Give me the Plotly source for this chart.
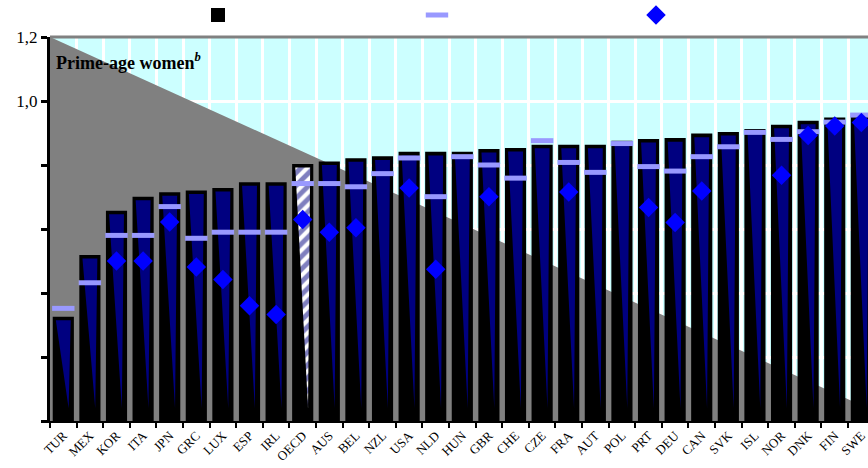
import plotly.graph_objects as go

countries = ["TUR", "MEX", "KOR", "ITA", "JPN", "GRC", "LUX", "ESP", "IRL", "OECD",
             "AUS", "BEL", "NZL", "USA", "NLD", "HUN", "GBR", "CHE", "CZE", "FRA",
             "AUT", "POL", "PRT", "DEU", "CAN", "SVK", "ISL", "NOR", "DNK", "FIN", "SWE"]
bar_values = [0.323, 0.516, 0.654, 0.698, 0.712, 0.717, 0.725, 0.743, 0.743, 0.800,
              0.808, 0.818, 0.824, 0.838, 0.838, 0.838, 0.847, 0.850, 0.860, 0.860,
              0.860, 0.873, 0.878, 0.881, 0.895, 0.900, 0.909, 0.923, 0.935, 0.945, 0.949]
dash_values = [0.352, 0.432, 0.580, 0.580, 0.670, 0.571, 0.590, 0.590, 0.590, 0.742,
               0.742, 0.732, 0.773, 0.822, 0.701, 0.826, 0.800, 0.759, 0.876, 0.808,
               0.777, 0.867, 0.795, 0.781, 0.826, 0.857, 0.902, 0.880, 0.904, 0.934, 0.956]
diamond_values = [None, None, 0.500, 0.500, 0.622, 0.481, 0.442, 0.360, 0.333, 0.630,
                  0.590, 0.604, None, 0.728, 0.474, None, 0.701, None, None, 0.716,
                  None, None, 0.667, 0.620, 0.719, None, None, 0.768, 0.892, 0.922, 0.933]
y_tick_values = [0.0, 0.2, 0.4, 0.6, 0.8, 1.0, 1.2]
y_tick_text = ["", "", "", "", "", "1,0", "1,2"]
panel_title = "<b>Prime-age women<sup><i>b</i></sup></b>"
highlight = "OECD"

SERIF = "Liberation Serif"
NAVY = "#000080"
idx = list(range(len(countries)))

fig = go.Figure()

fig.add_trace(go.Bar(
    x=idx, y=bar_values, width=0.72, name=" ",
    marker=dict(color="black", line=dict(color="black", width=2)),
    showlegend=True, hoverinfo="skip"))

# inner shading triangles of each bar
tx, ty, hx, hy = [], [], [], []
for i, v in zip(idx, bar_values):
    xs = [i - 0.28, i + 0.28, i + 0.2, i - 0.28]
    ys = [v - 0.008, v - 0.008, 0.04, v - 0.008]
    if countries[i] == highlight:
        hx += xs; hy += ys
    else:
        tx += xs + [None]; ty += ys + [None]

fig.add_trace(go.Scatter(x=tx, y=ty, mode="lines", fill="toself", fillcolor=NAVY,
                         line=dict(width=0), showlegend=False, hoverinfo="skip"))
fig.add_trace(go.Scatter(x=hx, y=hy, mode="lines", fill="toself", fillcolor="white",
                         fillpattern=dict(shape="/", fgcolor=NAVY, bgcolor="white",
                                          size=9, solidity=0.55),
                         line=dict(width=0), showlegend=False, hoverinfo="skip"))

fig.add_trace(go.Scatter(
    x=idx, y=dash_values, mode="markers", name=" ",
    marker=dict(symbol="line-ew", size=16, color="#9999FF",
                line=dict(color="#9999FF", width=5)),
    hoverinfo="skip"))
fig.add_trace(go.Scatter(
    x=idx, y=diamond_values, mode="markers", name=" ",
    marker=dict(symbol="diamond", size=15, color="#0000FF", line=dict(width=0)),
    hoverinfo="skip"))

# grey triangle behind bars
fig.add_shape(type="path", xref="x", yref="y",
              path="M -0.5 1.2 L -0.5 0 L 31.3 0 Z",
              fillcolor="#808080", line=dict(width=0), layer="between")
# top frame line
fig.add_shape(type="line", xref="paper", yref="paper", x0=0, x1=1, y0=1, y1=1,
              line=dict(color="#808080", width=3), layer="above")

fig.add_annotation(x=0.005, y=0.935, xref="paper", yref="paper", xanchor="left",
                   yanchor="middle", text=panel_title, showarrow=False,
                   font=dict(family=SERIF, size=18, color="black"))

fig.update_layout(
    width=868, height=468,
    margin=dict(l=50, r=0, t=37, b=47),
    paper_bgcolor="white", plot_bgcolor="#CCFFFF",
    font=dict(family=SERIF, color="black"),
    bargap=0.28,
    legend=dict(orientation="h", xref="container", yref="container",
                x=0.2281, y=0.968, xanchor="left", yanchor="middle",
                entrywidth=174, entrywidthmode="pixels",
                font=dict(size=12), bgcolor="rgba(0,0,0,0)", traceorder="normal"),
    xaxis=dict(range=[-0.5, 30.25], tickmode="array", tickvals=idx, ticktext=countries,
               tickangle=-45, ticks="", showgrid=False, zeroline=False, automargin=False,
               ticklabeloverflow="allow",
               tickfont=dict(family=SERIF, size=13, color="black"),
               showline=True, linecolor="black", linewidth=2,
               minor=dict(tick0=-0.5, dtick=1, ticks="outside", ticklen=5,
                          tickwidth=2, tickcolor="black",
                          showgrid=True, gridcolor="white", gridwidth=3)),
    yaxis=dict(range=[0, 1.2], tickmode="array", tickvals=y_tick_values,
               ticktext=y_tick_text, ticks="outside", ticklen=6, tickwidth=3,
               tickcolor="black", showgrid=True, gridcolor="white", gridwidth=3,
               zeroline=False, showline=True, linecolor="black", linewidth=3,
               automargin=False,
               tickfont=dict(family=SERIF, size=17, color="black")),
)

# remove the default page margin so the 868x468 figure fills the window exactly
fig.write_html("out.html", config={"displayModeBar": False},
               post_script="document.body.style.margin='0';document.body.style.overflow='hidden';")
